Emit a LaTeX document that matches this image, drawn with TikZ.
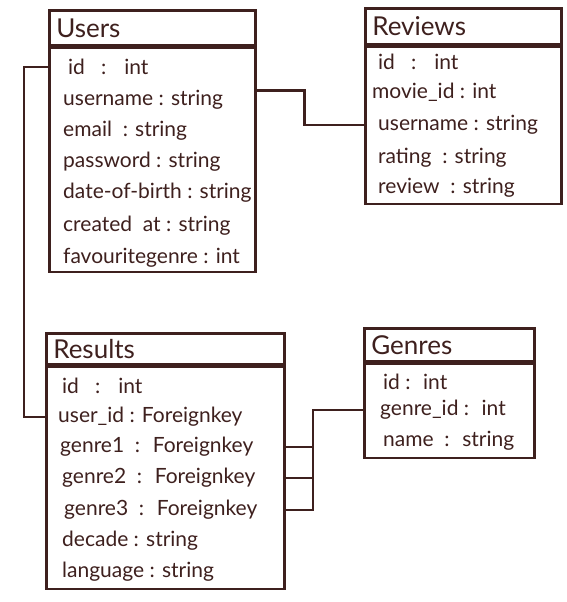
\documentclass[tikz,border=0pt]{standalone}
\usepackage{fontspec}
\setmainfont{Lato}
\usepackage{tikz}
\usetikzlibrary{positioning}
\definecolor{ink}{RGB}{62, 32, 30}

\begin{document}
\begin{tikzpicture}[x=1pt, y=-1pt, color=ink,
  tblhead/.style={draw, line width=2.6pt, anchor=north west, align=left, inner xsep=7pt, inner ysep=0pt, font=\fontsize{26}{27}\selectfont},
  tblbody/.style={draw, line width=2.6pt, inner sep=0pt},
  field/.style={anchor=west, inner sep=0pt, font=\fontsize{21}{23}\selectfont},
  link/.style={line width=2.6pt}]

  \useasboundingbox[fill=white] (0,0) rectangle (566,602);

  % Users table
  \node[tblhead, text width=192pt, minimum height=35pt] (users) at (48,9) {Users};
  \node[tblbody, minimum width=206pt, minimum height=224pt, below=0pt of users] (usersbox) {};
  \node[field] (uid) at (68,67) {id \ \ : \ \ int};
  \node[field] (uname) at (63,100) {username : string};
  \node[field] (umail) at (63,131) {email \ : string};
  \node[field] (upass) at (63,162) {password : string};
  \node[field] (udob) at (63,193) {date-of-birth : string};
  \node[field] (ucreated) at (63,226) {created \ at : string};
  \node[field] (ufav) at (63,258) {favouritegenre : int};

  % Reviews table
  \node[tblhead, text width=182pt, minimum height=36pt] (reviews) at (364,7) {Reviews};
  \node[tblbody, minimum width=196pt, minimum height=157pt, below=0pt of reviews] (reviewsbox) {};
  \node[field] (vid) at (378,62) {id \ \ : \ \ int};
  \node[field] (vmovie) at (372,92) {movie\_id : int};
  \node[field] (vuser) at (378,125) {username : string};
  \node[field] (vrating) at (378,158) {rating \ : string};
  \node[field] (vreview) at (378,188) {review \ : string};

  % Results table
  \node[tblhead, text width=224pt, minimum height=31pt] (results) at (45,332) {Results};
  \node[tblbody, minimum width=238pt, minimum height=222pt, below=0pt of results] (resultsbox) {};
  \node[field] (rid) at (62,386) {id \ \ : \ \ int};
  \node[field] (ruser) at (58,417) {user\_id : Foreignkey};
  \node[field] (rg1) at (60,447) {genre1 \ : \ Foreignkey};
  \node[field] (rg2) at (62,478) {genre2 \ : \ Foreignkey};
  \node[field] (rg3) at (64,510) {genre3 \ : \ Foreignkey};
  \node[field] (rdecade) at (62,541) {decade : string};
  \node[field] (rlang) at (62,572) {language : string};

  % Genres table
  \node[tblhead, text width=156pt, minimum height=33pt] (genres) at (363,327) {Genres};
  \node[tblbody, minimum width=170pt, minimum height=94pt, below=0pt of genres] (genresbox) {};
  \node[field] (gid) at (383,382) {id : \ int};
  \node[field] (ggid) at (380,410) {genre\_id : \ int};
  \node[field] (gname) at (383,441) {name \ : \ string};

  % links
  \draw[link] (usersbox.west |- uid) -- ++(-24,0) |- (resultsbox.west |- ruser);
  \draw[link] (usersbox.east |- uname.north) -- ++(48,0) |- (reviewsbox.west |- vuser);
  \draw[link] (genresbox.west |- ggid) -- ++(-50,0) coordinate (gjoin) |- (resultsbox.east |- rg3);
  \draw[link] (resultsbox.east |- rg1) -- (gjoin |- rg1);
  \draw[link] (resultsbox.east |- rg2) -- (gjoin |- rg2);
\end{tikzpicture}
\end{document}
